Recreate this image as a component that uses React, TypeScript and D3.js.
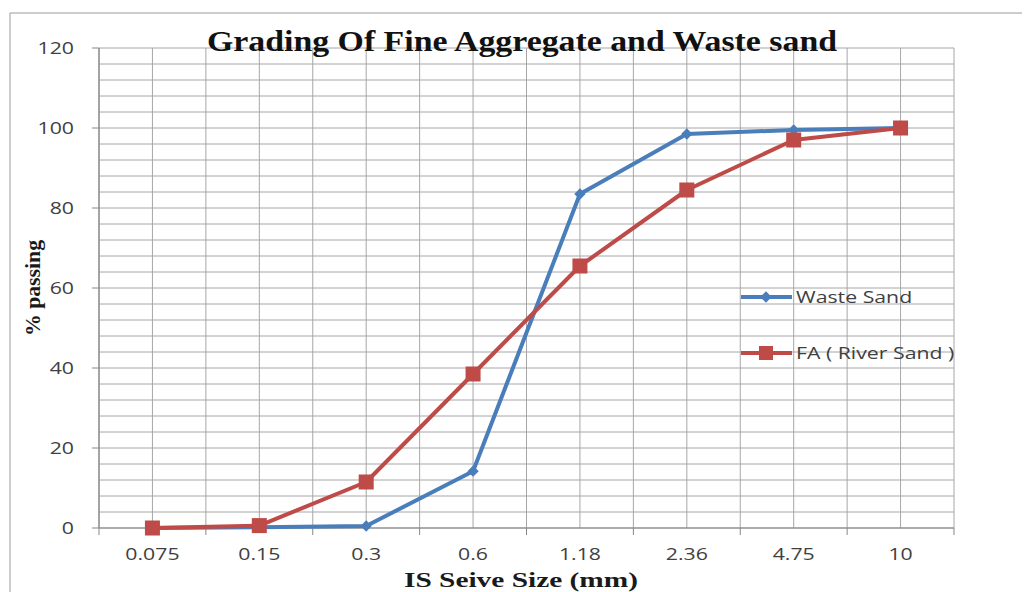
import React from "react";
import * as d3 from "d3";

const sieveSizes = ["0.075", "0.15", "0.3", "0.6", "1.18", "2.36", "4.75", "10"];
const wasteSand = [0, 0.2, 0.5, 14.2, 83.5, 98.5, 99.5, 100];
const riverSand = [0, 0.6, 11.5, 38.5, 65.5, 84.5, 97, 100];
const yTicks = [0, 20, 40, 60, 80, 100, 120];
const seriesNames = ["Waste Sand", "FA ( River Sand )"];

const W = 1027;
const H = 592;
const plot = { left: 99, right: 954, top: 48, bottom: 528 };
const SX = 1.33;

function SText(props: {
  x: number;
  y: number;
  anchor?: "start" | "middle" | "end";
  size: number;
  family: string;
  weight?: string;
  fill: string;
  children: React.ReactNode;
}) {
  return (
    <g transform={`translate(${props.x},${props.y}) scale(${SX},1)`}>
      <text
        x={0}
        y={0}
        textAnchor={props.anchor || "start"}
        fontFamily={props.family}
        fontSize={props.size}
        fontWeight={props.weight || "normal"}
        fill={props.fill}
      >
        {props.children}
      </text>
    </g>
  );
}

export default function App() {
  const x = d3.scaleBand<string>().domain(sieveSizes).range([plot.left, plot.right]).padding(0);
  const y = d3.scaleLinear().domain([0, 120]).range([plot.bottom, plot.top]);
  const cx = (s: string) => (x(s) as number) + x.bandwidth() / 2;

  const minorY = d3.range(0, 121, 4);
  const vLines: number[] = [];
  sieveSizes.forEach((s) => {
    vLines.push(x(s) as number);
    vLines.push(cx(s));
  });
  vLines.push(plot.right);

  const line = d3
    .line<number>()
    .x((_, i) => cx(sieveSizes[i]))
    .y((d) => y(d));

  const blue = "#4a7ebb";
  const red = "#be4b48";
  const grid = "#a6a6a6";
  const tickFont = "'Open Sans', 'DejaVu Sans', sans-serif";
  const serif = "'Liberation Serif', 'Times New Roman', serif";
  const txt = "#404040";

  return (
    <svg width={W} height={H} style={{ position: "absolute", left: 0, top: 0, background: "#fff" }}>
      <rect x={0} y={0} width={W} height={H} fill="#fff" />
      {/* outer frame */}
      <line x1={10} y1={13} x2={1022} y2={13} stroke="#9a9a9a" strokeWidth={1} />
      <line x1={10} y1={13} x2={10} y2={592} stroke="#9a9a9a" strokeWidth={1} />

      {/* horizontal gridlines */}
      {minorY.map((v) => (
        <line key={"h" + v} x1={plot.left} x2={plot.right} y1={y(v)} y2={y(v)} stroke={grid} strokeWidth={1} />
      ))}
      {/* vertical gridlines */}
      {vLines.map((v, i) => (
        <line key={"v" + i} x1={v} x2={v} y1={plot.top} y2={plot.bottom} stroke={grid} strokeWidth={1} />
      ))}

      {/* axes */}
      <line x1={plot.left} x2={plot.left} y1={plot.top} y2={plot.bottom} stroke="#868686" strokeWidth={1.2} />
      <line x1={plot.left} x2={plot.right} y1={plot.bottom} y2={plot.bottom} stroke="#868686" strokeWidth={1.2} />
      {yTicks.map((t) => (
        <g key={"yt" + t}>
          <line x1={plot.left - 7} x2={plot.left} y1={y(t)} y2={y(t)} stroke="#868686" />
          <SText x={plot.left - 25} y={y(t) + 6} anchor="end" size={16} family={tickFont} fill={txt}>
            {t}
          </SText>
        </g>
      ))}
      {sieveSizes.concat(["__end"]).map((s, i) => {
        const xx = i < sieveSizes.length ? (x(s) as number) : plot.right;
        return <line key={"xt" + i} x1={xx} x2={xx} y1={plot.bottom} y2={plot.bottom + 7} stroke="#868686" />;
      })}
      {sieveSizes.map((s) => (
        <SText key={"xl" + s} x={cx(s)} y={plot.bottom + 32} anchor="middle" size={16} family={tickFont} fill={txt}>
          {s}
        </SText>
      ))}

      {/* series */}
      <path d={line(wasteSand) || ""} fill="none" stroke={blue} strokeWidth={4} strokeLinejoin="round" />
      <path d={line(riverSand) || ""} fill="none" stroke={red} strokeWidth={4} strokeLinejoin="round" />
      {wasteSand.map((v, i) => (
        <rect
          key={"bm" + i}
          x={-4}
          y={-4}
          width={8}
          height={8}
          fill={blue}
          transform={`translate(${cx(sieveSizes[i])},${y(v)}) rotate(45)`}
        />
      ))}
      {riverSand.map((v, i) => (
        <rect key={"rm" + i} x={cx(sieveSizes[i]) - 7.5} y={y(v) - 7.5} width={15} height={15} fill={red} />
      ))}

      {/* legend */}
      <line x1={741} x2={792} y1={297} y2={297} stroke={blue} strokeWidth={4} />
      <rect x={-4} y={-4} width={8} height={8} fill={blue} transform="translate(766,297) rotate(45)" />
      <SText x={796} y={303} size={16} family={tickFont} fill={txt}>
        {seriesNames[0]}
      </SText>
      <line x1={741} x2={792} y1={353} y2={353} stroke={red} strokeWidth={4} />
      <rect x={759} y={346} width={14} height={14} fill={red} />
      <SText x={796} y={359} size={16} family={tickFont} fill={txt}>
        {seriesNames[1]}
      </SText>

      {/* titles */}
      <text x={522} y={51} textAnchor="middle" fontFamily={serif} fontWeight="bold" fontSize={30} fill="#111" textLength={630} lengthAdjust="spacingAndGlyphs">
        Grading Of Fine Aggregate and Waste sand
      </text>
      <text
        transform="translate(40,288) rotate(-90)"
        textAnchor="middle"
        fontFamily={serif}
        fontWeight="bold"
        fontSize={20}
        fill="#1a1a1a"
        textLength={96}
        lengthAdjust="spacingAndGlyphs"
      >
        % passing
      </text>
      <text x={521} y={587} textAnchor="middle" fontFamily={serif} fontWeight="bold" fontSize={22} fill="#1a1a1a" textLength={234} lengthAdjust="spacingAndGlyphs">
        IS Seive Size (mm)
      </text>
    </svg>
  );
}
